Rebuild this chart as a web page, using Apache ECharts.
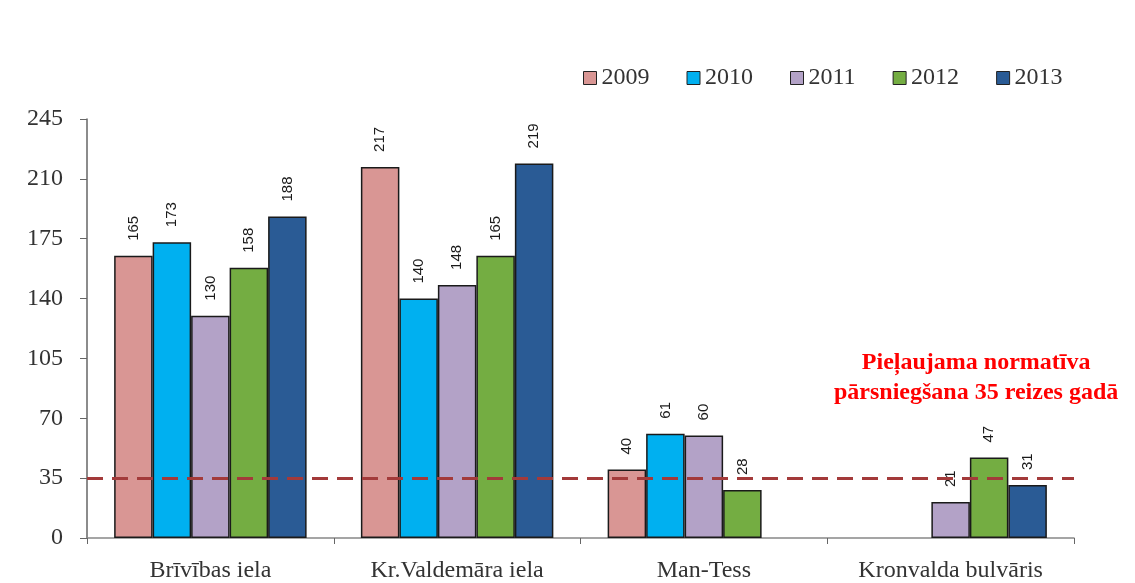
<!DOCTYPE html>
<html>
<head>
<meta charset="utf-8">
<script src="https://cdn.jsdelivr.net/npm/echarts@6/dist/echarts.min.js"></script>
<style>
  html, body { margin: 0; padding: 0; background: #fff; }
  #chart { width: 1135px; height: 583px; }
</style>
</head>
<body>
<div id="chart"></div>
<script>
// ielas un gadu dati
const categories = ['Brīvības iela', 'Kr.Valdemāra iela', 'Man-Tess', 'Kronvalda bulvāris'];
const years = ['2009', '2010', '2011', '2012', '2013'];
const v2009 = [165, 217, 40, null];
const v2010 = [173, 140, 61, null];
const v2011 = [130, 148, 60, 21];
const v2012 = [158, 165, 28, 47];
const v2013 = [188, 219, null, 31];
const yTicks = [0, 35, 70, 105, 140, 175, 210, 245];
const limitValue = 35;

const colors = ['#d99694', '#00b0f0', '#b3a2c7', '#74ad42', '#2a5b95'];
const allValues = [v2009, v2010, v2011, v2012, v2013];

const chart = echarts.init(document.getElementById('chart'));

var series = years.map(function (y, i) {
    var s = {
        name: y,
        type: 'bar',
        data: allValues[i],
        barGap: '0%',
        barCategoryGap: '22%',
        itemStyle: {
            color: colors[i],
            borderColor: '#1a1a1a',
            borderWidth: 1.5
        },
        label: {
            show: true,
            position: 'top',
            rotate: 90,
            align: 'left',
            verticalAlign: 'middle',
            distance: 15,
            fontFamily: 'Liberation Sans, Arial',
            fontSize: 15,
            color: '#1a1a1a'
        }
    };
    if (i === 4) {
        s.markLine = {
            silent: true,
            symbol: 'none',
            label: { show: false },
            lineStyle: { color: '#a33a3a', type: [16, 9], width: 3 },
            data: [{ yAxis: limitValue }]
        };
    }
    return s;
});

var option = {
    animation: false,
    backgroundColor: '#fff',
    legend: {
        data: years,
        left: 578,
        top: 61,
        icon: 'rect',
        itemWidth: 13,
        itemHeight: 13,
        itemGap: 37,
        itemStyle: { borderColor: '#222', borderWidth: 1 },
        textStyle: { fontFamily: 'Liberation Serif, Times New Roman', fontSize: 24, color: '#333' }
    },
    grid: { left: 87, right: 61, top: 119, bottom: 45 },
    xAxis: {
        type: 'category',
        data: categories,
        axisLine: { lineStyle: { color: '#888', width: 1.5 } },
        axisTick: { show: true, length: 6, lineStyle: { color: '#666' } },
        axisLabel: { fontFamily: 'Liberation Serif, Times New Roman', fontSize: 24, color: '#333', margin: 21 }
    },
    yAxis: {
        type: 'value',
        min: 0,
        max: 245,
        interval: 35,
        splitLine: { show: false },
        axisLine: { show: true, lineStyle: { color: '#666', width: 1.5 } },
        axisTick: { show: true, inside: false, length: 7, lineStyle: { color: '#666' } },
        axisLabel: {
            fontFamily: 'Liberation Serif, Times New Roman',
            fontSize: 24,
            color: '#333',
            margin: 24,
            formatter: function (v) { return yTicks.indexOf(v) >= 0 ? String(v) : ''; }
        }
    },
    graphic: [{
        type: 'text',
        left: 834,
        top: 348,
        style: {
            text: 'Pieļaujama normatīva\npārsniegšana 35 reizes gadā',
            fill: '#ff0000',
            font: 'bold 24px "Liberation Serif", "Times New Roman"',
            textAlign: 'center',
            lineHeight: 30
        }
    }],
    series: series
};

option && chart.setOption(option);
</script>
</body>
</html>
